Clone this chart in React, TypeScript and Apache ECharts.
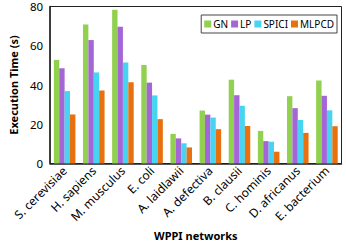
import React, { useEffect, useRef } from "react";
import * as echarts from "echarts";

const categories = [
  "S. cerevisiae",
  "H. sapiens",
  "M. musculus",
  "E. coli",
  "A. laidlawii",
  "A. defectiva",
  "B. clausii",
  "C. hominis",
  "D. africanus",
  "E. bacterium",
];
const gn = [52.8, 70.8, 78.4, 50.2, 15.1, 27.0, 42.7, 16.6, 34.3, 42.3];
const lp = [48.5, 62.9, 69.7, 41.2, 12.8, 24.9, 34.8, 11.4, 28.2, 34.5];
const spici = [36.9, 46.4, 51.5, 34.7, 10.3, 23.4, 29.4, 11.1, 22.2, 27.1];
const mlpcd = [25.0, 37.2, 41.4, 22.6, 8.2, 17.5, 19.1, 6.0, 15.6, 19.0];
const yTicks = [0, 20, 40, 60, 80];

const colors = ["#92D050", "#A466D6", "#47D3F2", "#E8700E"];
const FONT = "Noto Sans";

export default function App() {
  const ref = useRef<HTMLDivElement>(null);
  useEffect(() => {
    if (!ref.current) return;
    const chart = echarts.init(ref.current, undefined, { renderer: "svg" });
    const mk = (name: string, data: number[], i: number) => ({
      name,
      type: "bar",
      data,
      barGap: "0%",
      barCategoryGap: "26%",
      itemStyle: { color: colors[i] },
    });
    chart.setOption({
      animation: false,
      textStyle: { fontFamily: FONT },
      color: colors,
      grid: { left: 36, right: 4.5, top: 6.5, bottom: 71, show: true, borderColor: "#222", borderWidth: 1 },
      legend: {
        right: 9,
        top: 15,
        itemWidth: 7,
        itemHeight: 7,
        itemGap: 3,
        padding: [4, 3, 4, 3],
        borderColor: "#444",
        borderWidth: 1,
        backgroundColor: "#fff",
        icon: "rect",
        textStyle: { fontFamily: FONT, fontSize: 10, color: "#000", padding: [0, 0, 0, -3] },
        data: ["GN", "LP", "SPICI", "MLPCD"],
      },
      xAxis: {
        type: "category",
        data: categories,
        name: "WPPI networks",
        nameLocation: "middle",
        nameGap: 58,
        nameTextStyle: { fontFamily: FONT, fontSize: 11, fontWeight: "bold", color: "#000" },
        axisLine: { lineStyle: { color: "#222", width: 1.5 } },
        axisTick: { show: false },
        axisLabel: { interval: 0, rotate: 45, fontSize: 12, color: "#000", fontFamily: FONT, margin: 5 },
      },
      yAxis: {
        type: "value",
        min: yTicks[0],
        max: yTicks[yTicks.length - 1],
        interval: 20,
        name: "Execution Time (s)",
        nameLocation: "middle",
        nameGap: 20,
        nameTextStyle: { fontFamily: FONT, fontSize: 11, fontWeight: "bold", color: "#000" },
        axisLine: { show: true, lineStyle: { color: "#222", width: 1.5 } },
        axisTick: { show: false },
        splitLine: { show: false },
        axisLabel: { fontSize: 11.5, color: "#000", fontFamily: FONT, margin: 7 },
      },
      series: [mk("GN", gn, 0), mk("LP", lp, 1), mk("SPICI", spici, 2), mk("MLPCD", mlpcd, 3)],
    });
    return () => chart.dispose();
  }, []);
  return <div ref={ref} style={{ width: 346, height: 246, position: "absolute", left: 0, top: 0 }} />;
}
